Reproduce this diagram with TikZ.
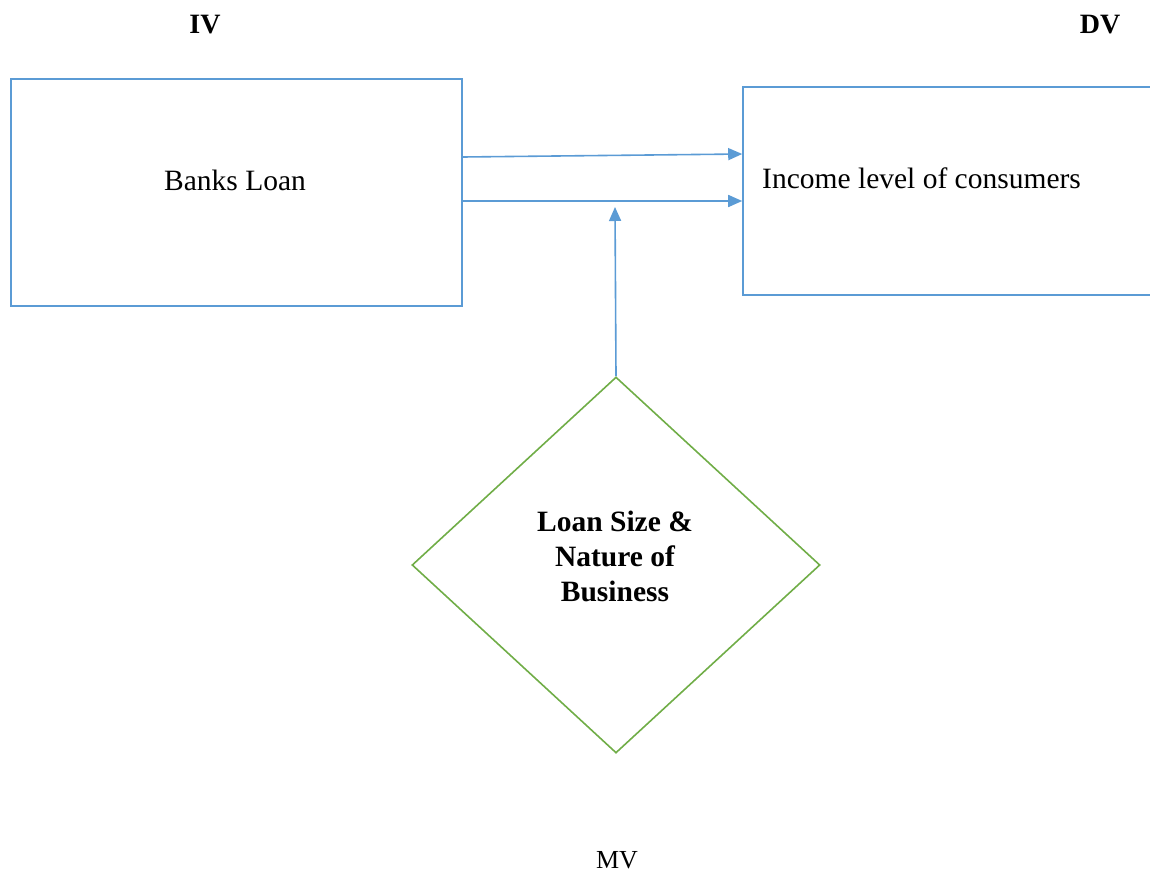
\documentclass[tikz,border=0pt]{standalone}
\usepackage{fontspec}
\setmainfont{Liberation Serif}
\usetikzlibrary{shapes.geometric,arrows.meta}
\definecolor{boxblue}{RGB}{91,155,213}
\definecolor{dgreen}{RGB}{112,173,71}
\tikzset{
  varbox/.style={draw=boxblue,line width=1.6pt,rectangle,inner sep=0pt},
  modbox/.style={draw=dgreen,line width=1.6pt,diamond,inner sep=0pt,minimum width=408pt,minimum height=376pt},
  conn/.style={draw=boxblue,line width=1.6pt,-{Triangle[length=14pt,width=12pt]}},
  txt/.style={font=\fontsize{29.5}{35}\selectfont,inner sep=0pt,align=center},
  btxt/.style={font=\fontsize{29.5}{35}\selectfont\bfseries,inner sep=0pt,align=center},
  lab/.style={font=\fontsize{28}{34}\selectfont\bfseries,inner sep=0pt}
}
\begin{document}
\begin{tikzpicture}[x=1pt,y=-1pt]
\useasboundingbox (0,0) rectangle (1150,875);
\node[varbox,minimum width=451pt,minimum height=227pt] (bl) at (236.5,192.5) {};
\node[varbox,minimum width=410pt,minimum height=208pt] (dv) at (948,191) {};
\node[modbox] (md) at (616,565) {};
\node[txt] (bltext) at (235,180) {Banks Loan};
\node[txt,anchor=west] (dvtext) at (762,178) {Income\ level of consumers};
\node[btxt] (mdtext) at (615,556) {Loan Size \&\\Nature of\\Business};
\node[lab] (iv) at (205,25) {IV};
\node[lab] (dvlab) at (1100,25) {DV};
\node[font=\fontsize{26}{32}\selectfont,inner sep=0pt] (mv) at (617,860) {MV};
\coordinate (mvend) at (615,207);
\draw[conn] ([yshift=35.5pt]bl.east) -- ([yshift=37pt]dv.west);
\draw[conn] ([yshift=-8.5pt]bl.east) -- ([yshift=-10pt]dv.west);
\draw[conn] (md.north) -- (mvend);
\end{tikzpicture}
\end{document}
